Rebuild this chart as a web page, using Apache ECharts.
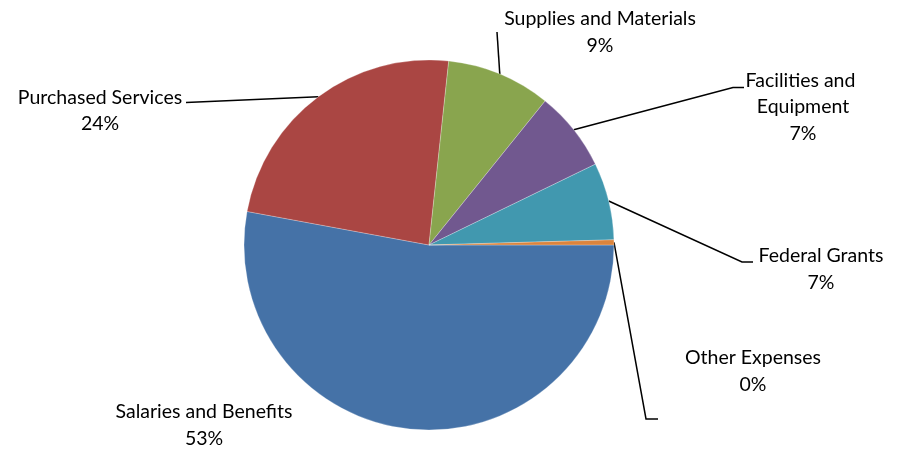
<!DOCTYPE html>
<html>
<head>
<meta charset="utf-8">
<script src="https://cdn.jsdelivr.net/npm/echarts@6/dist/echarts.min.js"></script>
<style>
  html, body { margin: 0; padding: 0; background: #fff; }
  #chart { width: 902px; height: 449px; }
</style>
</head>
<body>
<div id="chart"></div>
<script>
// Data
const categories = ['Salaries and Benefits', 'Purchased Services', 'Supplies and Materials',
                    'Facilities and Equipment', 'Federal Grants', 'Other Expenses'];
const values = [52.9, 23.8, 9.1, 7.0, 6.75, 0.45];
const colors = ['#4572A7', '#AA4643', '#89A54E', '#71588F', '#4198AF', '#DB843D'];

// Label layout (positions of the text blocks and leader-line elbows)
const labelPos = [
  { x: 204, y: 425, line: null },
  { x: 100, y: 110.5, line: [[186, 102.5], [186, 102.5]] },
  { x: 600, y: 32, line: [[497, 32], [497, 32]] },
  { x: 803, y: 107, line: [[733, 87.5], [744, 87.5]] },
  { x: 821, y: 269, line: [[742, 262], [753, 262]] },
  { x: 753, y: 371, line: [[646, 419], [658, 419]] }
];

const chart = echarts.init(document.getElementById('chart'), null, { renderer: 'canvas' });

const data = categories.map((name, i) => {
  const item = { name: name, value: values[i], itemStyle: { color: colors[i] } };
  if (i === 3) item.label = { width: 125, overflow: 'break' };
  if (!labelPos[i].line) item.labelLine = { show: false };
  return item;
});

chart.setOption({
  animation: false,
  backgroundColor: '#ffffff',
  series: [{
    type: 'pie',
    center: [429, 245],
    radius: 185,
    startAngle: 0,
    clockwise: true,
    avoidLabelOverlap: false,
    emphasis: { disabled: true },
    itemStyle: { borderColor: 'rgba(255,255,255,0.5)', borderWidth: 0.5 },
    label: {
      show: true,
      position: 'outside',
      fontFamily: 'Lato',
      fontSize: 19.5,
      lineHeight: 26.5,
      color: '#000',
      align: 'center',
      formatter: p => p.name + '\n' + Math.round(p.percent) + '%'
    },
    labelLine: {
      show: true,
      length: 20,
      length2: 10,
      smooth: false,
      lineStyle: { color: '#000', width: 1.5 }
    },
    labelLayout: function (params) {
      const L = labelPos[params.dataIndex];
      const out = { x: L.x, y: L.y, align: 'center', verticalAlign: 'middle' };
      if (L.line && params.labelLinePoints && params.labelLinePoints.length) {
        out.labelLinePoints = [params.labelLinePoints[0], L.line[0], L.line[1]];
      }
      return out;
    },
    data: data
  }]
});
</script>
</body>
</html>
